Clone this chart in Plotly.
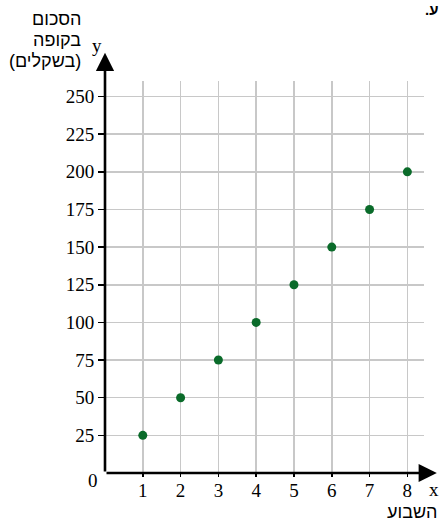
import plotly.graph_objects as go

# Data
weeks = [1, 2, 3, 4, 5, 6, 7, 8]
amounts = [25, 50, 75, 100, 125, 150, 175, 200]
x_ticks = [1, 2, 3, 4, 5, 6, 7, 8]
y_ticks = [25, 50, 75, 100, 125, 150, 175, 200, 225, 250]
y_title_lines = ["הסכום", "בקופה", "(בשקלים)"]
x_title = "השבוע"

W, H = 443, 522
L, R, T, B = 105, 19, 81, 49
PW, PH = W - L - R, H - T - B

def px(xp):
    return (xp - L) / PW

def py(yp):
    return (H - B - yp) / PH

serif = "Liberation Serif"
sans = "Liberation Sans"

fig = go.Figure()
fig.add_trace(go.Scatter(
    x=weeks, y=amounts, mode="markers",
    marker=dict(size=9, color="#0a6b2a"),
    cliponaxis=False, hoverinfo="skip",
))

fig.update_layout(
    width=W, height=H,
    margin=dict(l=L, r=R, t=T, b=B),
    plot_bgcolor="white", paper_bgcolor="white",
    font=dict(family=serif, size=19, color="black"),
    showlegend=False,
    xaxis=dict(
        range=[0, 8.44], tickvals=x_ticks, ticktext=[str(v) for v in x_ticks],
        showgrid=True, gridcolor="#c8c8c8", gridwidth=1.5,
        zeroline=False, showline=False,
        ticks="outside", ticklen=3, tickwidth=1.5, tickcolor="black",
        ticklabelstandoff=-3,
        tickfont=dict(family=serif, size=19, color="black"),
        fixedrange=True,
    ),
    yaxis=dict(
        range=[0, 260.3], tickvals=y_ticks, ticktext=[str(v) for v in y_ticks],
        showgrid=True, gridcolor="#c8c8c8", gridwidth=1.5,
        zeroline=False, showline=False,
        ticks="outside", ticklen=6, tickwidth=1.5, tickcolor="black",
        tickfont=dict(family=serif, size=19, color="black"),
        fixedrange=True,
    ),
)

# Axis arrows
fig.add_annotation(x=8.78, y=0, ax=0, ay=0, xref="x", yref="y", axref="x", ayref="y",
                   text="", showarrow=True, arrowhead=2, arrowsize=1.4, arrowwidth=2.6,
                   arrowcolor="black")
fig.add_annotation(x=0, y=279, ax=0, ay=0, xref="x", yref="y", axref="x", ayref="y",
                   text="", showarrow=True, arrowhead=2, arrowsize=1.4, arrowwidth=2.6,
                   arrowcolor="black")

# Origin label
fig.add_annotation(x=px(93), y=py(480), xref="paper", yref="paper", text="0",
                   showarrow=False, font=dict(family=serif, size=19, color="black"),
                   xanchor="center", yanchor="middle")
# axis letters
fig.add_annotation(x=px(97), y=py(45), xref="paper", yref="paper", text="y",
                   showarrow=False, font=dict(family=serif, size=19, color="black"),
                   xanchor="center", yanchor="middle")
fig.add_annotation(x=px(434), y=py(489), xref="paper", yref="paper", text="x",
                   showarrow=False, font=dict(family=serif, size=19, color="black"),
                   xanchor="center", yanchor="middle")

# y title lines
for line, yc in zip(y_title_lines, [19, 40, 61]):
    fig.add_annotation(x=px(83), y=py(yc), xref="paper", yref="paper", text=line,
                       showarrow=False, font=dict(family=sans, size=18, color="black"),
                       xanchor="right", yanchor="middle")
# x title
fig.add_annotation(x=px(412), y=py(512), xref="paper", yref="paper", text=x_title,
                   showarrow=False, font=dict(family=sans, size=18, color="black"),
                   xanchor="center", yanchor="middle", borderpad=0)

# partially visible text at top right
fig.add_annotation(x=px(439), y=py(9), xref="paper", yref="paper", text="<b>.ע</b>",
                   showarrow=False, font=dict(family=sans, size=15, color="black"),
                   xanchor="right", yanchor="middle", borderpad=0)

fig.write_html("out.html",
               config={"displayModeBar": False, "staticPlot": True},
               post_script="document.body.style.margin='0px';document.body.style.overflow='hidden';")
